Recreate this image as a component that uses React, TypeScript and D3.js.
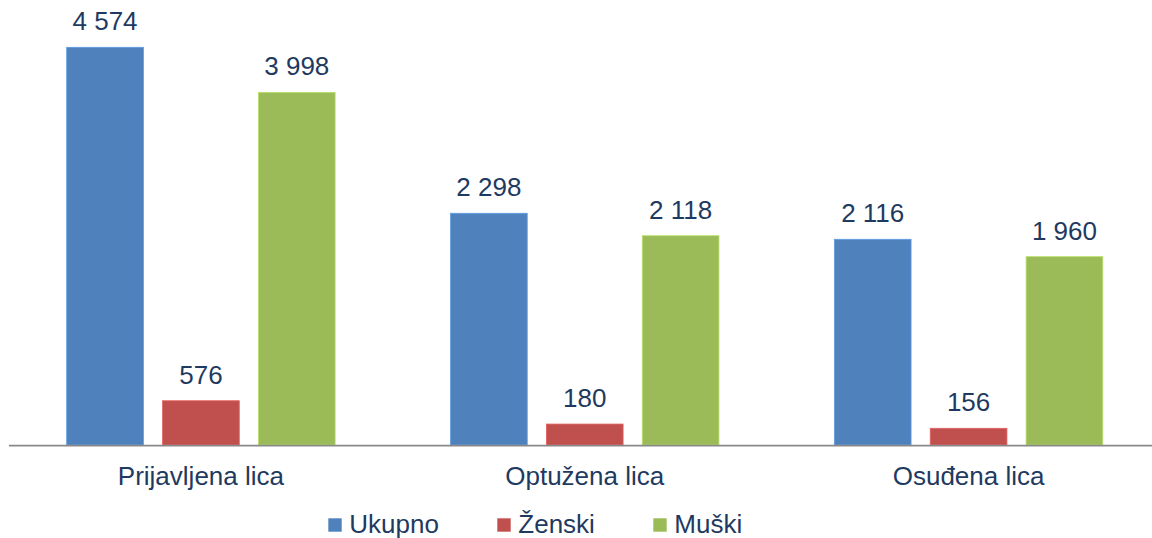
import React from "react";
import * as d3 from "d3";

// Categories and series
const categories = ["Prijavljena lica", "Optužena lica", "Osuđena lica"];
const seriesNames = ["Ukupno", "Ženski", "Muški"];
const seriesColors = ["#4F81BD", "#C0504D", "#9BBB59"];

// Data labels as printed on the chart
const ukupnoLabels = [4574, 2298, 2116];
const zenskiLabels = [576, 180, 156];
const muskiLabels = [3998, 2118, 1960];

// Bar heights as drawn in the picture (the bars are not proportional to the printed labels)
const ukupnoBars = [4574, 2665, 2366];
const zenskiBars = [509, 241, 192];
const muskiBars = [4056, 2407, 2166];

const labelSeries = [ukupnoLabels, zenskiLabels, muskiLabels];
const barSeries = [ukupnoBars, zenskiBars, muskiBars];

const W = 1152;
const H = 538;
const FONT = "'Liberation Sans', Arial, sans-serif";
const TEXT = "#1F3A60";

const fmt = (v: number) => {
  const s = String(v);
  return s.length > 3 ? s.slice(0, s.length - 3) + " " + s.slice(-3) : s;
};

export default function App() {
  const baseline = 445;
  const y = d3.scaleLinear().domain([0, 4574]).range([baseline, 47.3]);
  const x0 = d3.scaleBand<string>().domain(categories).range([9, 1160.5]).padding(0);
  const outer = 57.7;
  const x1 = d3
    .scaleBand<string>()
    .domain(seriesNames)
    .range([outer, x0.bandwidth() - outer])
    .paddingInner(0.2)
    .paddingOuter(0);

  const legendX = [328.3, 497.3, 653.3];

  return (
    <svg
      width={W}
      height={H}
      style={{ position: "absolute", left: 0, top: 0, display: "block", background: "#fff" }}
      fontFamily={FONT}
    >
      {categories.map((c, ci) => (
        <g key={c} transform={`translate(${x0(c)},0)`}>
          {seriesNames.map((s, si) => {
            const v = barSeries[si][ci];
            const bx = x1(s)!;
            const top = y(v);
            return (
              <g key={s}>
                <rect
                  x={bx}
                  y={top}
                  width={x1.bandwidth()}
                  height={baseline - top}
                  fill={seriesColors[si]}
                  stroke={d3.color(seriesColors[si])!.brighter(0.5).formatHex()}
                  strokeWidth={0.8}
                />
                <text
                  x={bx + x1.bandwidth() / 2}
                  y={top - 17}
                  textAnchor="middle"
                  fontSize={26}
                  fill={TEXT}
                >
                  {fmt(labelSeries[si][ci])}
                </text>
              </g>
            );
          })}
          <text
            x={x0.bandwidth() / 2}
            y={485}
            textAnchor="middle"
            fontSize={26}
            fill={TEXT}
          >
            {c}
          </text>
        </g>
      ))}
      <line x1={9} x2={1160} y1={445.6} y2={445.6} stroke="#898989" strokeWidth={1.6} />
      {seriesNames.map((s, i) => (
        <g key={s}>
          <rect x={legendX[i]} y={518.3} width={13.4} height={13.4} fill={seriesColors[i]} />
          <text x={legendX[i] + 21} y={533} fontSize={26} fill={TEXT}>
            {s}
          </text>
        </g>
      ))}
    </svg>
  );
}
